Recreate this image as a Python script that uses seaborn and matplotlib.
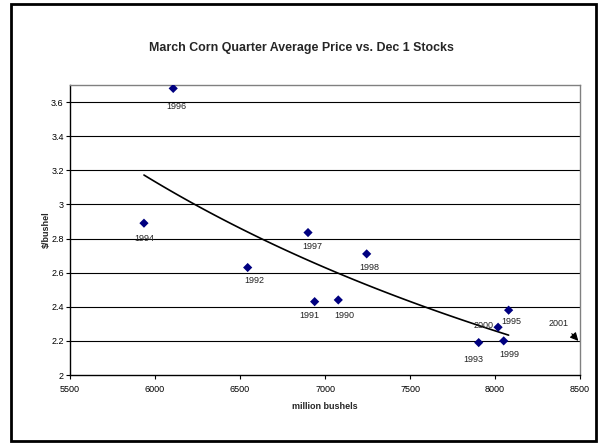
import numpy as np
import pandas as pd
import seaborn as sns
import matplotlib.pyplot as plt
from matplotlib.patches import Rectangle
from matplotlib.ticker import FuncFormatter

# Dec 1 stocks (million bushels) vs March corn quarter average price ($/bushel)
years = ['1990', '1991', '1992', '1993', '1994', '1995', '1996', '1997', '1998', '1999', '2000']
stocks = [7078, 6939, 6545, 7904, 5935, 8080, 6107, 6900, 7245, 8051, 8018]
price = [2.44, 2.43, 2.63, 2.19, 2.89, 2.38, 3.68, 2.835, 2.71, 2.20, 2.28]

# 2001 marker: stocks off to the right, price ~2.2
label_2001 = '2001'
stocks_2001 = 8490
price_2001 = 2.2
text_2001 = (8376, 2.30)

# label offsets in points (dx, dy), style only
label_off = {
    '1990': (4, -11), '1991': (-4, -10), '1992': (5, -9), '1993': (-4, -12),
    '1994': (0, -11), '1995': (2, -8), '1996': (2, -13), '1997': (3, -10),
    '1998': (2, -10), '1999': (4, -10), '2000': (-3, 1),
}

df = pd.DataFrame({'year': years, 'stocks': stocks, 'price': price})

# power trend line (like the spreadsheet one)
b, lna = np.polyfit(np.log(df['stocks']), np.log(df['price']), 1)
xs = np.linspace(df['stocks'].min(), df['stocks'].max(), 100)
trend = pd.DataFrame({'x': xs, 'y': np.exp(lna) * xs ** b})

sns.set_style('white')
plt.rcParams['font.family'] = ['Liberation Sans', 'DejaVu Sans']

fig = plt.figure(figsize=(6, 4.45), dpi=100)
ax = fig.add_axes([0.1167, 0.1573, 0.85, 0.6517])

for v in np.arange(2.2, 3.61, 0.2):
    ax.axhline(v, color='black', lw=0.8, zorder=1)

sns.lineplot(data=trend, x='x', y='y', color='black', lw=1.2, ax=ax, zorder=2)
sns.scatterplot(data=df, x='stocks', y='price', marker='D', s=22, color='#000080',
                edgecolor='none', ax=ax, zorder=3)

for yr, x, y in zip(years, stocks, price):
    dx, dy = label_off[yr]
    ha = 'right' if yr == '2000' else 'center'
    ax.annotate(yr, (x, y), xytext=(dx, dy), textcoords='offset points',
                ha=ha, va='center', fontsize=6.5, color='#222222')

ax.annotate(label_2001, (stocks_2001, price_2001), xytext=text_2001,
            ha='center', va='center', fontsize=6.5, color='#222222',
            arrowprops=dict(arrowstyle='-|>', color='black', lw=0.8,
                            shrinkA=2, shrinkB=0, relpos=(0.9, 0.0),
                            mutation_scale=12))

ax.set_xlim(5500, 8500)
ax.set_ylim(2, 3.7)
ax.set_xticks(range(5500, 8501, 500))
ax.set_yticks(np.arange(2, 3.61, 0.2))
ax.yaxis.set_major_formatter(FuncFormatter(lambda v, p: f'{v:g}'))
ax.tick_params(axis='both', direction='out', length=3, width=0.8, labelsize=6.5,
               colors='black', left=True, bottom=True)
ax.tick_params(axis='x', pad=4)
ax.tick_params(axis='y', pad=1.5)
ax.set_xlabel('million bushels', fontsize=6.5, fontweight='bold', labelpad=6)
ax.set_ylabel('$/bushel', fontsize=6.5, fontweight='bold', labelpad=0)
fig.text(0.503, 0.892, 'March Corn Quarter Average Price vs. Dec 1 Stocks',
         fontsize=8.9, fontweight='bold', ha='center', va='center')

for s in ['left', 'bottom']:
    ax.spines[s].set_color('black')
    ax.spines[s].set_linewidth(1.0)
for s in ['top', 'right']:
    ax.spines[s].set_color('#808080')
    ax.spines[s].set_linewidth(1.0)

fig.patches.append(Rectangle((0.018, 0.01), 0.975, 0.98, transform=fig.transFigure,
                             fill=False, edgecolor='black', lw=2))

fig.savefig('out.png', dpi=100)
